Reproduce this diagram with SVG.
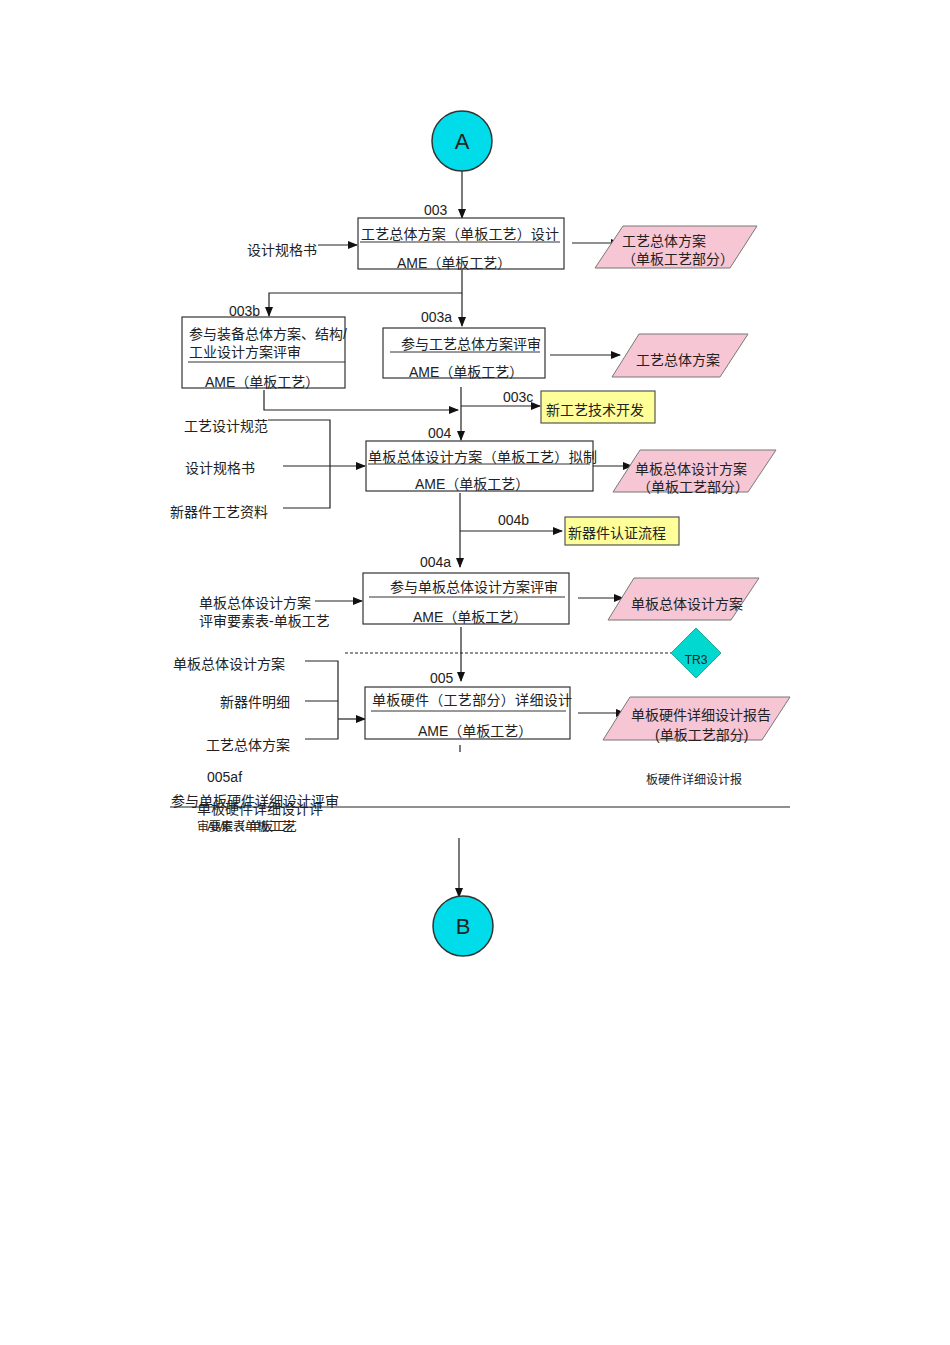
<svg xmlns="http://www.w3.org/2000/svg" width="950" height="1345" viewBox="0 0 950 1345">
<style>
text{font-family:"Liberation Sans","Noto Sans CJK SC",sans-serif;font-size:14px;fill:#222}
.b{fill:#fff;stroke:#333;stroke-width:1.2}
.u{stroke:#333;stroke-width:1}
.p{fill:#f7c6d4;stroke:#777;stroke-width:1}
.y{fill:#ffff99;stroke:#555;stroke-width:1.2}
.c{fill:#00dcea;stroke:#333;stroke-width:1.5}
.l{fill:none;stroke:#222;stroke-width:1.2}
.a{fill:none;stroke:#222;stroke-width:1.2;marker-end:url(#m)}
</style>
<defs><marker id="m" markerWidth="10" markerHeight="8" refX="9" refY="4" orient="auto" markerUnits="userSpaceOnUse"><path d="M0,0L10,4L0,8z" fill="#111"/></marker></defs>
<rect width="950" height="1345" fill="#fff"/>
<g id="connectors">
<path class="a" d="M462,171V218"/>
<path class="a" d="M318,245H357"/>
<path class="a" d="M572,243H620"/>
<path class="a" d="M462,270V326"/>
<path class="a" d="M462,293H269V316"/>
<path class="a" d="M550,355H620"/>
<path class="a" d="M461,387V440"/>
<path class="a" d="M264,390V410H458"/>
<path class="a" d="M461,406H540"/>
<path class="l" d="M268,420H330V508H283M283,466H330"/>
<path class="a" d="M330,466H365"/>
<path class="a" d="M587,466H632"/>
<path class="a" d="M460,493V567"/>
<path class="a" d="M460,531H562"/>
<path class="a" d="M315,601H362"/>
<path class="a" d="M578,598H623"/>
<path class="l" d="M345,653H673" stroke-dasharray="3,2"/>
<path class="a" d="M461,627V681"/>
<path class="l" d="M305,661H338V739H305M305,701H338"/>
<path class="a" d="M338,719H365"/>
<path class="a" d="M578,713H625"/>
<path class="l" d="M460,745V752"/>
<path class="l" d="M170,807H790"/>
<path class="a" d="M459,838V897"/>
</g>
<g id="A"><circle class="c" cx="462" cy="141" r="30"/><text x="462" y="149" text-anchor="middle" style="font-size:22px">A</text></g>
<g id="n003"><text x="424" y="215">003</text><rect class="b" x="358" y="218" width="206" height="51"/><text x="361" y="239" textLength="198">工艺总体方案（单板工艺）设计</text><path class="u" d="M360,242H560"/><text x="397" y="268">AME（单板工艺）</text></g>
<g id="in1"><text x="247" y="255">设计规格书</text></g>
<g id="o1"><path class="p" d="M595,268L623,226H757L730,268Z"/><text x="622" y="246">工艺总体方案</text><text x="622" y="264">（单板工艺部分）</text></g>
<g id="n003b"><text x="229" y="316">003b</text><rect class="b" x="182" y="317" width="163" height="71"/><text x="189" y="339">参与装备总体方案、结构/</text><text x="189" y="357">工业设计方案评审</text><path class="u" d="M188,362H345"/><text x="205" y="387">AME（单板工艺）</text></g>
<g id="n003a"><text x="421" y="322">003a</text><rect class="b" x="383" y="328" width="162" height="50"/><text x="401" y="349">参与工艺总体方案评审</text><path class="u" d="M390,352H540"/><text x="409" y="377">AME（单板工艺）</text></g>
<g id="o2"><path class="p" d="M612,377L639,334H748L720,377Z"/><text x="636" y="365">工艺总体方案</text></g>
<g id="n003c"><text x="503" y="402">003c</text><rect class="y" x="541" y="391" width="114" height="32"/><text x="546" y="415">新工艺技术开发</text></g>
<g id="in2"><text x="184" y="431">工艺设计规范</text><text x="185" y="473">设计规格书</text><text x="170" y="517">新器件工艺资料</text></g>
<g id="n004"><text x="428" y="438">004</text><rect class="b" x="366" y="441" width="227" height="50"/><text x="368" y="462" textLength="229">单板总体设计方案（单板工艺）拟制</text><path class="u" d="M368,464H590"/><text x="415" y="489">AME（单板工艺）</text></g>
<g id="o3"><path class="p" d="M613,492L640,450H776L748,492Z"/><text x="635" y="474">单板总体设计方案</text><text x="637" y="492">（单板工艺部分）</text></g>
<g id="n004b"><text x="498" y="525">004b</text><rect class="y" x="565" y="517" width="114" height="28"/><text x="568" y="538">新器件认证流程</text></g>
<g id="n004a"><text x="420" y="567">004a</text><rect class="b" x="363" y="573" width="206" height="51"/><text x="390" y="592">参与单板总体设计方案评审</text><path class="u" d="M369,597H565"/><text x="413" y="622">AME（单板工艺）</text></g>
<g id="in3"><text x="199" y="608">单板总体设计方案</text><text x="199" y="626">评审要素表-单板工艺</text></g>
<g id="o4"><path class="p" d="M608,620L634,578H759L731,620Z"/><text x="631" y="609">单板总体设计方案</text></g>
<g id="TR3"><path d="M696,628L721,653L696,678L671,653Z" fill="#00d8d0" stroke="#2a9" stroke-width="1"/><text x="696" y="664" text-anchor="middle" style="font-size:12px">TR3</text></g>
<g id="n005"><text x="430" y="683">005</text><rect class="b" x="365" y="687" width="205" height="52"/><text x="372" y="705" textLength="200">单板硬件（工艺部分）详细设计</text><path class="u" d="M371,711H566"/><text x="418" y="736">AME（单板工艺）</text></g>
<g id="in4"><text x="173" y="669">单板总体设计方案</text><text x="220" y="707">新器件明细</text><text x="206" y="750">工艺总体方案</text></g>
<g id="o5"><path class="p" d="M603,740L630,697H790L762,740Z"/><text x="631" y="720">单板硬件详细设计报告</text><text x="655" y="740">(单板工艺部分)</text></g>
<g id="n005af"><text x="207" y="782">005af</text><text x="646" y="784" style="font-size:12px">板硬件详细设计报</text><text x="171" y="806">参与单板硬件详细设计评审</text><text x="197" y="814">单板硬件详细设计评</text><text x="197" y="831" style="font-size:12px">审要素表-单板工艺</text><text x="207" y="831" style="font-size:12px">AME（单板工艺</text></g>
<g id="B"><circle class="c" cx="463" cy="926" r="30"/><text x="463" y="934" text-anchor="middle" style="font-size:22px">B</text></g>
</svg>
